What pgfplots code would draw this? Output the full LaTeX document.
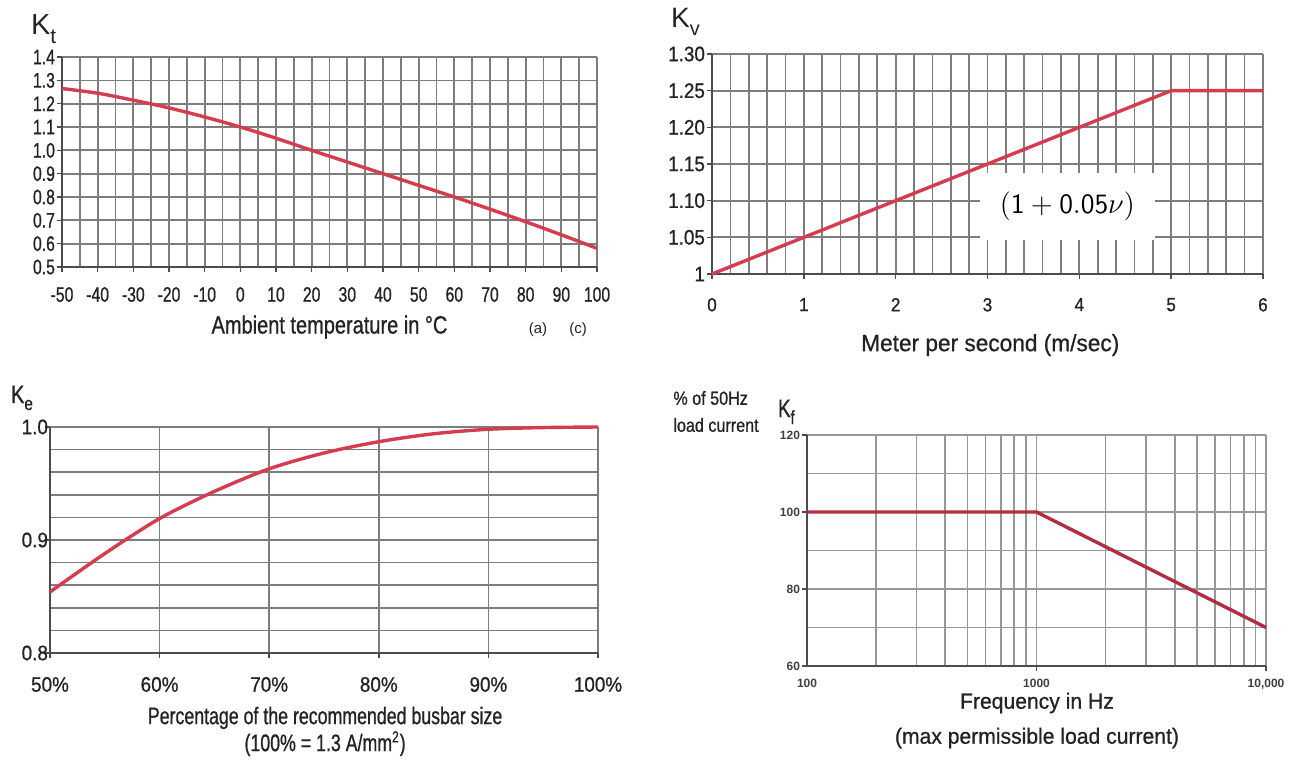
\documentclass[border=0pt]{standalone}
\usepackage{pgfplots}
\pgfplotsset{compat=1.18}
\usepackage{fontspec}
\setmainfont{Liberation Sans}[FakeStretch=0.85, FakeBold=0.8]
\newfontfamily\plainsans{Liberation Sans}
\newfontfamily\fnarrow{Liberation Sans}[FakeStretch=0.75, FakeBold=0.8]
\newfontfamily\fcond{Liberation Sans}[FakeStretch=0.8, FakeBold=0.8]
\newfontfamily\fmid{Liberation Sans}[FakeStretch=0.9, FakeBold=0.8]
\newfontfamily\fwide{Liberation Sans}[FakeStretch=0.96, FakeBold=0.8]
\newfontfamily\fbusbar{Liberation Sans}[FakeStretch=0.74, FakeBold=0.8]
\definecolor{curvered}{RGB}{212,60,80}
\definecolor{darkcurve}{RGB}{178,45,65}
\definecolor{gridgray}{RGB}{125,125,125}
\definecolor{txt}{RGB}{35,35,35}

\pgfplotsset{
  chartbase/.style={
    scale only axis,
    anchor=south west,
    axis lines=left,
    axis line style={-, draw=black!70, line width=0.9pt},
    grid=both,
    major grid style={draw=gridgray, line width=0.85pt},
    minor grid style={draw=gridgray, line width=0.85pt},
    tick style={draw=black!70, line width=0.8pt},
    tick align=outside,
    major tick length=2.5pt,
    minor tick length=0pt,
    tick label style={text=txt},
    label style={text=txt},
    clip=false,
  },
  curve/.style={draw=curvered, line width=1.7pt, no markers},
}

\begin{document}
\begin{tikzpicture}
\path[use as bounding box] (0,0) rectangle (655pt,-382.5pt);

% K_t : temperature
\begin{axis}[chartbase,
  at={(31pt,-133.5pt)}, width=267.5pt, height=105pt,
  xmin=-50, xmax=100, ymin=0.5, ymax=1.4,
  xtick={-50,-40,-30,-20,-10,0,10,20,30,40,50,60,70,80,90,100},
  xticklabels={-50,-40,-30,-20,-10,0,10,20,30,40,50,60,70,80,90,100},
  minor x tick num=1,
  ytick={0.5,0.6,0.7,0.8,0.9,1.0,1.1,1.2,1.3,1.4},
  yticklabels={0.5,0.6,0.7,0.8,0.9,1.0,1.1,1.2,1.3,1.4},
  tick label style={font=\fnarrow\fontsize{10.5}{11}\selectfont},
  xticklabel style={yshift=-4pt},
  yticklabel style={xshift=2.5pt},
  xlabel={Ambient temperature in °C},
  xlabel style={at={(axis description cs:0.5,-0.286)}, anchor=center, font=\fcond\fontsize{12.5}{14}\selectfont},
]
\addplot[curve, smooth] coordinates {
  (-50,1.265) (-40,1.245) (-30,1.215) (-20,1.182) (-10,1.143) (0,1.10)
  (10,1.052) (20,1.0) (30,0.95) (40,0.90) (50,0.85) (60,0.80)
  (70,0.748) (80,0.694) (90,0.638) (100,0.58)
};
\end{axis}

% K_v : air velocity
\begin{axis}[chartbase,
  at={(356pt,-137pt)}, width=275.5pt, height=110pt,
  xmin=0, xmax=6, ymin=1, ymax=1.3,
  xtick={0,1,2,3,4,5,6}, minor x tick num=4,
  ytick={1,1.05,1.1,1.15,1.2,1.25,1.3},
  yticklabels={1,1.05,1.10,1.15,1.20,1.25,1.30},
  xticklabels={0,1,2,3,4,5,6},
  yticklabel style={font=\fmid\fontsize{10.5}{12}\selectfont, xshift=2.5pt},
  xticklabel style={font=\fmid\fontsize{9.5}{11}\selectfont, yshift=-6pt},
  xlabel={Meter per second (m/sec)},
  xlabel style={at={(axis description cs:0.505,-0.323)}, anchor=center, font=\fwide\fontsize{11.8}{13}\selectfont},
]
\addplot[curve] coordinates {(0,1) (5,1.25) (6,1.25)};
\node[fill=white, minimum width=87.5pt, minimum height=33.5pt, inner sep=0pt,
  font=\fontsize{14}{16}\selectfont] at (axis cs:3.87,1.092)
  {$\left(\mathsf{1}+\mathsf{0.05}\nu\right)$};
\end{axis}

% K_e : busbar size
\begin{axis}[chartbase,
  at={(25pt,-326.5pt)}, width=274pt, height=113pt,
  xmin=50, xmax=100, ymin=0.8, ymax=1.0,
  xtick={50,60,70,80,90,100},
  xticklabels={50\%,60\%,70\%,80\%,90\%,100\%},
  ytick={0.8,0.9,1.0}, yticklabels={0.8,0.9,1.0},
  minor y tick num=4,
  tick label style={font=\fmid\fontsize{10.5}{12}\selectfont},
  xticklabel style={yshift=-6pt},
  yticklabel style={xshift=5pt},
  xlabel={Percentage of the recommended busbar size\\(100\% = 1.3 A/mm\textsuperscript{2})},
  xlabel style={at={(axis description cs:0.502,-0.347)}, anchor=center, align=center,
    font=\fbusbar\fontsize{12}{13.5}\selectfont},
]
\addplot[curve, smooth] coordinates {
  (50,0.854) (55,0.888) (60,0.919) (65,0.943) (70,0.963) (75,0.977)
  (80,0.987) (85,0.994) (90,0.998) (95,0.9995) (100,1.0)
};
\end{axis}

% K_f : frequency on a log axis; every grid line is a tick, labels only at decades
\begin{axis}[chartbase,
  at={(403.5pt,-333pt)}, width=229.5pt, height=115.5pt,
  xmode=log, xmin=100, xmax=10000, ymin=60, ymax=120,
  xtick={100,200,300,400,500,600,700,800,900,1000,2000,3000,4000,5000,6000,7000,8000,9000,10000},
  xticklabels={100,,,,,,,,,1000,,,,,,,,,{10,000}},
  ytick={60,70,80,90,100,110,120}, yticklabels={60,,80,,100,,120},
  major tick length=0pt,
  extra x ticks={1000,10000}, extra x tick labels={},
  extra y ticks={60,80,100,120}, extra y tick labels={},
  extra tick style={major tick length=2.5pt, grid=none},
  major grid style={draw=gridgray!80, line width=0.85pt},
  tick label style={font=\plainsans\bfseries\fontsize{6}{7}\selectfont, text=black!75},
  xticklabel style={yshift=-3pt},
  xlabel={Frequency in Hz\\(max permissible load current)},
  xlabel style={at={(axis description cs:0.501,-0.236)}, anchor=center, align=center,
    font=\fwide\fontsize{11}{17.5}\selectfont},
]
\addplot[curve, draw=darkcurve] coordinates {(100,100) (1000,100) (10000,70)};
\end{axis}

% panel titles and side notes
\node[anchor=base west, text=txt, font=\plainsans\fontsize{14.5}{16}\selectfont] at (12pt,-17.5pt)
  {K\raisebox{-0.28em}{\fontsize{10.5}{10.5}\selectfont t}};
\node[anchor=base west, text=txt, font=\plainsans\fontsize{14}{16}\selectfont] at (332pt,-14pt)
  {K\raisebox{-0.28em}{\fontsize{10}{10}\selectfont v}};
\node[anchor=base west, text=txt, font=\fcond\fontsize{12.5}{14}\selectfont] at (2pt,-201.5pt)
  {K\raisebox{-0.28em}{\fontsize{9.5}{9.5}\selectfont e}};
\node[anchor=base west, text=txt, font=\fnarrow\fontsize{12.5}{14}\selectfont] at (385.5pt,-208.5pt)
  {K\raisebox{-0.28em}{\fontsize{9.5}{9.5}\selectfont f}};
\node[anchor=west, inner sep=0pt, text=txt, font=\fontsize{9.5}{10}\selectfont] at (336.5pt,-199pt) {\% of 50Hz};
\node[anchor=west, inner sep=0pt, text=txt, font=\fontsize{9.5}{10}\selectfont] at (336.5pt,-212.5pt) {load current};
\node[text=txt, font=\plainsans\fontsize{7.5}{9}\selectfont] at (269pt,-165pt) {(a)};
\node[text=txt, font=\plainsans\fontsize{7.5}{9}\selectfont] at (289pt,-165pt) {(c)};
\end{tikzpicture}
\end{document}
